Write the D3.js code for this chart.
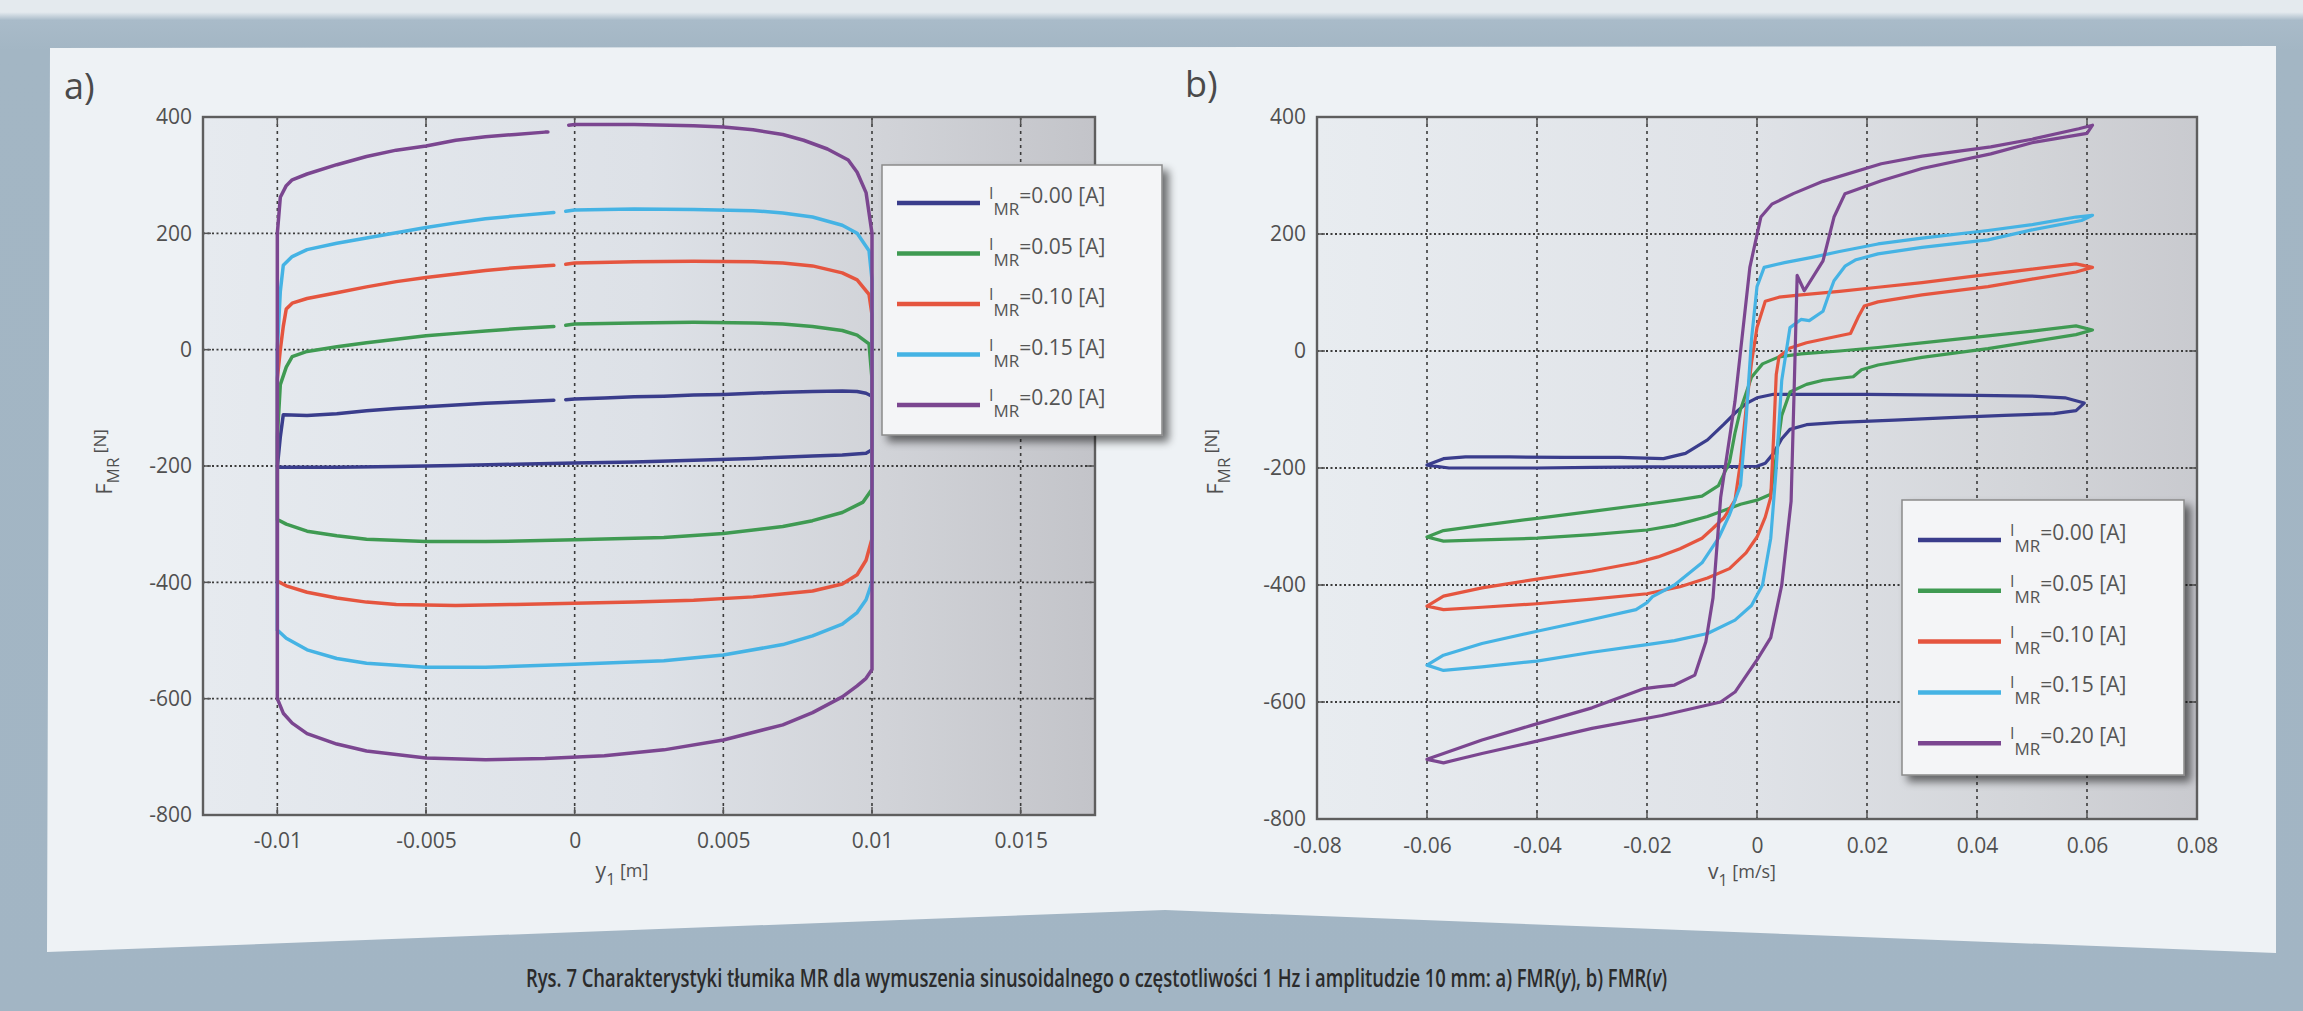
<!DOCTYPE html>
<html><head><meta charset="utf-8">
<script src="https://cdn.jsdelivr.net/npm/d3@7"></script>
<style>body{margin:0;background:#a7b9c7;overflow:hidden}</style>
</head><body><svg id="c" width="2303" height="1011"></svg>
<script>
// ---------- data ----------
const currents = ["0.00", "0.05", "0.10", "0.15", "0.20"];
const seriesColors = ["#3a3d8c", "#3f9a52", "#e5553f", "#45b3e4", "#7b4690"];
const forceTicks = [400, 200, 0, -200, -400, -600, -800];
const forceTickLabels = ["400", "200", "0", "-200", "-400", "-600", "-800"];
const dispTicks = [-0.01, -0.005, 0, 0.005, 0.01, 0.015];
const dispTickLabels = ["-0.01", "-0.005", "0", "0.005", "0.01", "0.015"];
const velTicks = [-0.08, -0.06, -0.04, -0.02, 0, 0.02, 0.04, 0.06, 0.08];
const velTickLabels = ["-0.08", "-0.06", "-0.04", "-0.02", "0", "0.02", "0.04", "0.06", "0.08"];

// a) F_MR(y): [y1 (m), F (N)], null = break in the recorded line
const dispLoop000 = [[-0.01,-202],[-0.0099,-150],[-0.0098,-112],[-0.009,-113],[-0.008,-110],[-0.007,-105],[-0.006,-101],[-0.005,-98],[-0.004,-95],[-0.003,-92],[-0.002,-90],[-0.0007,-87],null,[-0.0003,-86],[0,-85],[0.001,-83],[0.002,-81],[0.003,-80],[0.004,-78],[0.005,-77],[0.006,-75],[0.007,-73],[0.008,-72],[0.009,-71],[0.0095,-72],[0.0098,-75],[0.01,-80],[0.01,-172],[0.0098,-178],[0.009,-181],[0.008,-183],[0.006,-187],[0.004,-190],[0.002,-193],[0,-195],[-0.002,-197],[-0.004,-199],[-0.006,-201],[-0.008,-202],[-0.01,-202]];
const dispLoop005 = [[-0.01,-292],[-0.01,-150],[-0.0099,-60],[-0.0097,-30],[-0.0095,-12],[-0.009,-3],[-0.008,5],[-0.007,12],[-0.006,18],[-0.005,24],[-0.004,28],[-0.003,32],[-0.002,36],[-0.0007,40],null,[-0.0003,42],[0,44],[0.002,46],[0.004,47],[0.006,46],[0.007,44],[0.008,40],[0.009,33],[0.0095,25],[0.0099,10],[0.01,-50],[0.01,-240],[0.0097,-262],[0.009,-280],[0.008,-294],[0.007,-304],[0.005,-316],[0.003,-323],[0,-327],[-0.003,-330],[-0.005,-330],[-0.007,-326],[-0.008,-320],[-0.009,-312],[-0.0097,-300],[-0.01,-292]];
const dispLoop010 = [[-0.01,-398],[-0.01,-50],[-0.0099,0],[-0.0098,40],[-0.0097,70],[-0.0095,80],[-0.009,88],[-0.008,98],[-0.007,108],[-0.006,117],[-0.005,124],[-0.004,130],[-0.003,136],[-0.002,141],[-0.0007,145],null,[-0.0003,147],[0,149],[0.002,151],[0.004,152],[0.006,151],[0.007,149],[0.008,144],[0.009,132],[0.0095,120],[0.0099,95],[0.01,60],[0.01,-325],[0.0098,-362],[0.0095,-387],[0.009,-403],[0.008,-415],[0.006,-425],[0.004,-431],[0.002,-434],[0,-436],[-0.002,-438],[-0.004,-440],[-0.006,-438],[-0.007,-434],[-0.008,-427],[-0.009,-417],[-0.0097,-406],[-0.01,-398]];
const dispLoop015 = [[-0.01,-482],[-0.01,0],[-0.0099,100],[-0.0098,145],[-0.0095,160],[-0.009,172],[-0.008,183],[-0.007,192],[-0.006,201],[-0.005,210],[-0.004,218],[-0.003,225],[-0.002,230],[-0.0007,236],null,[-0.0003,238],[0,240],[0.002,242],[0.004,241],[0.006,239],[0.007,235],[0.008,228],[0.009,214],[0.0095,200],[0.0099,170],[0.01,120],[0.01,-400],[0.0098,-430],[0.0095,-452],[0.009,-472],[0.008,-492],[0.007,-507],[0.005,-525],[0.003,-535],[0,-541],[-0.003,-546],[-0.005,-546],[-0.007,-539],[-0.008,-531],[-0.009,-516],[-0.0097,-496],[-0.01,-482]];
const dispLoop020 = [[-0.01,-600],[-0.01,200],[-0.0099,262],[-0.0097,282],[-0.0095,292],[-0.009,302],[-0.008,318],[-0.007,332],[-0.006,343],[-0.005,350],[-0.004,360],[-0.003,366],[-0.002,370],[-0.001,374],[-0.0009,374],null,[-0.0002,386],[0,387],[0.002,387],[0.004,385],[0.005,383],[0.006,378],[0.007,370],[0.0077,360],[0.0085,345],[0.0092,326],[0.0095,305],[0.0098,270],[0.01,200],[0.01,-550],[0.0098,-565],[0.0095,-578],[0.009,-597],[0.008,-624],[0.007,-645],[0.005,-671],[0.003,-688],[0.001,-698],[-0.001,-703],[-0.003,-705],[-0.005,-702],[-0.007,-690],[-0.008,-678],[-0.009,-660],[-0.0095,-642],[-0.0098,-625],[-0.01,-600]];

// b) F_MR(v): [v1 (m/s), F (N)]
const velLoop000 = [[-0.06,-195],[-0.057,-184],[-0.053,-181],[-0.045,-181],[-0.035,-182],[-0.025,-182],[-0.017,-184],[-0.013,-175],[-0.009,-152],[-0.006,-125],[-0.004,-106],[-0.002,-90],[0,-80],[0.003,-74],[0.01,-74],[0.02,-74],[0.03,-75],[0.04,-76],[0.05,-77],[0.056,-80],[0.0595,-89],[0.058,-102],[0.054,-107],[0.045,-110],[0.035,-114],[0.025,-118],[0.015,-122],[0.009,-126],[0.006,-134],[0.0045,-150],[0.003,-175],[0.0015,-192],[0,-197],[-0.01,-198],[-0.02,-198],[-0.03,-199],[-0.04,-200],[-0.05,-200],[-0.056,-200],[-0.06,-195]];
const velLoop005 = [[-0.06,-318],[-0.057,-307],[-0.05,-298],[-0.04,-286],[-0.03,-274],[-0.02,-262],[-0.014,-254],[-0.01,-248],[-0.007,-230],[-0.005,-190],[-0.004,-140],[-0.003,-100],[-0.001,-45],[0.001,-22],[0.004,-10],[0.008,-5],[0.015,0],[0.022,6],[0.03,14],[0.042,26],[0.05,34],[0.058,43],[0.061,36],[0.058,28],[0.05,16],[0.042,4],[0.03,-11],[0.022,-24],[0.019,-32],[0.0175,-44],[0.012,-50],[0.009,-57],[0.006,-70],[0.0045,-110],[0.0035,-180],[0.0025,-245],[0,-255],[-0.003,-262],[-0.009,-283],[-0.015,-298],[-0.02,-306],[-0.03,-314],[-0.04,-320],[-0.05,-323],[-0.057,-325],[-0.06,-318]];
const velLoop010 = [[-0.06,-436],[-0.057,-419],[-0.05,-405],[-0.04,-390],[-0.03,-376],[-0.022,-362],[-0.018,-352],[-0.014,-338],[-0.01,-320],[-0.008,-303],[-0.006,-285],[-0.004,-255],[-0.003,-190],[-0.002,-100],[-0.001,-20],[0,40],[0.0015,85],[0.004,92],[0.008,96],[0.015,102],[0.022,109],[0.03,117],[0.042,131],[0.05,140],[0.058,149],[0.061,143],[0.058,135],[0.05,123],[0.042,110],[0.03,96],[0.022,84],[0.0195,77],[0.0185,60],[0.017,30],[0.012,20],[0.009,14],[0.006,5],[0.004,-10],[0.0035,-40],[0.003,-150],[0.0025,-250],[0.0015,-284],[0,-318],[-0.002,-345],[-0.005,-372],[-0.009,-388],[-0.014,-403],[-0.02,-415],[-0.03,-424],[-0.04,-432],[-0.05,-438],[-0.057,-442],[-0.06,-436]];
const velLoop015 = [[-0.06,-537],[-0.057,-520],[-0.05,-500],[-0.04,-479],[-0.03,-459],[-0.022,-442],[-0.02,-430],[-0.019,-420],[-0.015,-400],[-0.01,-362],[-0.007,-320],[-0.005,-280],[-0.003,-230],[-0.002,-120],[-0.001,20],[0,110],[0.0013,143],[0.005,151],[0.01,160],[0.015,170],[0.022,183],[0.03,193],[0.042,206],[0.05,216],[0.058,229],[0.061,232],[0.059,223],[0.05,207],[0.042,190],[0.03,177],[0.022,166],[0.018,156],[0.016,145],[0.014,120],[0.013,95],[0.012,68],[0.0095,52],[0.008,54],[0.006,40],[0.0045,-50],[0.0035,-200],[0.0025,-320],[0.001,-400],[-0.001,-435],[-0.004,-460],[-0.009,-483],[-0.015,-495],[-0.02,-502],[-0.03,-515],[-0.04,-530],[-0.05,-540],[-0.057,-546],[-0.06,-537]];
const velLoop020 = [[-0.06,-698],[-0.057,-688],[-0.05,-665],[-0.041,-640],[-0.03,-610],[-0.0205,-577],[-0.018,-574],[-0.015,-571],[-0.0113,-554],[-0.0093,-497],[-0.008,-422],[-0.0066,-250],[-0.004,-86],[-0.0013,143],[0.0007,229],[0.0027,251],[0.0066,269],[0.012,290],[0.0226,320],[0.03,333],[0.0425,349],[0.05,362],[0.0585,380],[0.061,386],[0.06,372],[0.05,356],[0.0425,337],[0.03,312],[0.0226,291],[0.016,269],[0.014,229],[0.012,154],[0.0086,103],[0.0073,129],[0.0068,-50],[0.0062,-257],[0.0045,-400],[0.0025,-490],[0,-528],[-0.004,-583],[-0.0066,-600],[-0.0173,-623],[-0.03,-645],[-0.041,-669],[-0.05,-688],[-0.057,-704],[-0.06,-698]];

const dispLoops = [dispLoop000, dispLoop005, dispLoop010, dispLoop015, dispLoop020];
const velLoops = [velLoop000, velLoop005, velLoop010, velLoop015, velLoop020];

// ---------- drawing ----------
const svg = d3.select("#c");
const FONT = "'Open Sans','Noto Sans',sans-serif";
const defs = svg.append("defs");

const bgGrad = defs.append("linearGradient").attr("id","bg").attr("x1",0).attr("y1",0).attr("x2",0).attr("y2",1);
bgGrad.append("stop").attr("offset",0).attr("stop-color","#e4eaee");
bgGrad.append("stop").attr("offset",0.012).attr("stop-color","#e4eaee");
bgGrad.append("stop").attr("offset",0.02).attr("stop-color","#a9bbc9");
bgGrad.append("stop").attr("offset",0.05).attr("stop-color","#a3b6c4");
bgGrad.append("stop").attr("offset",1).attr("stop-color","#a2b5c4");

function plotGrad(id, stops){
  const g = defs.append("linearGradient").attr("id",id).attr("x1",0).attr("y1",0).attr("x2",1).attr("y2",0);
  stops.forEach(s=>g.append("stop").attr("offset",s[0]).attr("stop-color",s[1]));
}
plotGrad("pa", [[0,"#e6eaef"],[0.5,"#dde1e7"],[0.75,"#d2d4d9"],[1,"#c3c4c9"]]);
plotGrad("pb", [[0,"#e8ecf0"],[0.5,"#dfe2e7"],[0.8,"#d3d5d9"],[1,"#c9cacf"]]);

const sh = defs.append("filter").attr("id","sh").attr("x","-10%").attr("y","-10%").attr("width","130%").attr("height","130%");
sh.append("feGaussianBlur").attr("in","SourceAlpha").attr("stdDeviation",4);
sh.append("feOffset").attr("dx",6).attr("dy",6).attr("result","b");
sh.append("feComponentTransfer").attr("in","b").attr("result","c").append("feFuncA").attr("type","linear").attr("slope",0.55);
const fm = sh.append("feMerge"); fm.append("feMergeNode").attr("in","c"); fm.append("feMergeNode").attr("in","SourceGraphic");

svg.append("rect").attr("width",2303).attr("height",1011).attr("fill","url(#bg)");
// paper panel
svg.append("polygon").attr("points","50,48 2276,46 2276,953 1165,910 47,952").attr("fill","#eef2f5");

// panel letters
svg.append("text").attr("x",64).attr("y",99).attr("font-family",FONT).attr("font-size",36).attr("fill","#4a4a4a").text("a)");
svg.append("text").attr("x",1185).attr("y",97).attr("font-family",FONT).attr("font-size",36).attr("fill","#4a4a4a").text("b)");

function panel(cfg){
  const x = d3.scaleLinear().domain(cfg.xDomain).range([cfg.left, cfg.right]);
  const y = d3.scaleLinear().domain([-800, 400]).range([cfg.bottom, cfg.top]);
  const g = svg.append("g");
  g.append("rect").attr("x",cfg.left).attr("y",cfg.top).attr("width",cfg.right-cfg.left).attr("height",cfg.bottom-cfg.top).attr("fill",`url(#${cfg.grad})`);
  // grid
  g.selectAll(".vg").data(cfg.xTicks.filter(t=>x(t)>cfg.left+2 && x(t)<cfg.right-2)).join("line")
    .attr("x1",d=>x(d)).attr("x2",d=>x(d)).attr("y1",cfg.top).attr("y2",cfg.bottom)
    .attr("stroke","#3c3c3c").attr("stroke-width",1.6).attr("stroke-dasharray","3,4");
  g.selectAll(".hg").data(forceTicks.filter(t=>t<400 && t>-800)).join("line")
    .attr("x1",cfg.left).attr("x2",cfg.right).attr("y1",d=>y(d)).attr("y2",d=>y(d))
    .attr("stroke","#3c3c3c").attr("stroke-width",1.8).attr("stroke-dasharray","2,2.5");
  // axes via d3
  const ax = d3.axisBottom(x).tickValues(cfg.xTicks).tickFormat((d,i)=>cfg.xLabels[i]).tickSize(0).tickPadding(cfg.xPad);
  const ay = d3.axisLeft(y).tickValues(forceTicks).tickFormat((d,i)=>forceTickLabels[i]).tickSize(0).tickPadding(11);
  const gx = g.append("g").attr("transform",`translate(0,${cfg.bottom})`).call(ax);
  const gy = g.append("g").attr("transform",`translate(${cfg.left},0)`).call(ay);
  [gx,gy].forEach(a=>{a.select(".domain").remove();
    a.selectAll("text").attr("font-family",FONT).attr("font-size",21).attr("fill","#505050");});
  // inner ticks on all sides
  cfg.xTicks.forEach(t=>{
    g.append("line").attr("x1",x(t)).attr("x2",x(t)).attr("y1",cfg.bottom).attr("y2",cfg.bottom-8).attr("stroke","#555").attr("stroke-width",1.5);
    g.append("line").attr("x1",x(t)).attr("x2",x(t)).attr("y1",cfg.top).attr("y2",cfg.top+8).attr("stroke","#555").attr("stroke-width",1.5);
  });
  forceTicks.forEach(t=>{
    g.append("line").attr("x1",cfg.left).attr("x2",cfg.left+8).attr("y1",y(t)).attr("y2",y(t)).attr("stroke","#555").attr("stroke-width",1.5);
    g.append("line").attr("x1",cfg.right).attr("x2",cfg.right-8).attr("y1",y(t)).attr("y2",y(t)).attr("stroke","#555").attr("stroke-width",1.5);
  });
  g.append("rect").attr("x",cfg.left).attr("y",cfg.top).attr("width",cfg.right-cfg.left).attr("height",cfg.bottom-cfg.top)
    .attr("fill","none").attr("stroke","#5e5e5e").attr("stroke-width",2.4);
  // data lines
  const line = d3.line().defined(d=>d!==null).x(d=>x(d[0])).y(d=>y(d[1]));
  cfg.loops.forEach((L,i)=>{
    g.append("path").attr("d",line(L)).attr("fill","none").attr("stroke",seriesColors[i])
      .attr("stroke-width",cfg.lw).attr("stroke-linejoin","round").attr("stroke-linecap","round");
  });
  // axis titles
  const xt = svg.append("text").attr("x",cfg.xTitleX).attr("y",cfg.xTitleY).attr("text-anchor","middle")
    .attr("font-family",FONT).attr("font-size",21).attr("fill","#505050");
  xt.append("tspan").text(cfg.xTitle[0]);
  xt.append("tspan").attr("font-size",16).attr("dy",7).text(cfg.xTitle[1]);
  xt.append("tspan").attr("font-size",18).attr("dy",-8).text(" " + cfg.xTitle[2]);
  const yt = svg.append("text").attr("transform",`translate(${cfg.yTitleX},${cfg.yTitleY}) rotate(-90)`).attr("text-anchor","middle")
    .attr("font-family",FONT).attr("font-size",22).attr("fill","#505050");
  yt.append("tspan").text("F");
  yt.append("tspan").attr("font-size",17).attr("dy",7).text("MR");
  yt.append("tspan").attr("font-size",17).attr("dy",-13).text(" [N]");
  // legend
  const lg = svg.append("g");
  lg.append("rect").attr("x",cfg.leg.x).attr("y",cfg.leg.y).attr("width",cfg.leg.w).attr("height",cfg.leg.h)
    .attr("fill","#f4f5f7").attr("stroke","#8a8a8a").attr("stroke-width",1.5).attr("filter","url(#sh)");
  currents.forEach((c,i)=>{
    const ly = cfg.leg.y + cfg.leg.first + i*cfg.leg.step;
    const lx = cfg.leg.x + cfg.leg.pad;
    lg.append("line").attr("x1",lx).attr("x2",lx+83).attr("y1",ly).attr("y2",ly).attr("stroke",seriesColors[i]).attr("stroke-width",4.5);
    const t = lg.append("text").attr("x",lx+92).attr("y",ly-4).attr("font-family",FONT).attr("font-size",16).attr("fill","#555");
    t.append("tspan").text("I");
    t.append("tspan").attr("dy",16).attr("font-size",17).text("MR");
    t.append("tspan").attr("dy",-12).attr("font-size",21).text("=" + c + " [A]");
  });
}

panel({xDomain:[-0.0125,0.0175], left:203, right:1095, top:117, bottom:815, grad:"pa",
  xTicks:dispTicks, xLabels:dispTickLabels, xPad:18, loops:dispLoops, lw:3.5,
  xTitle:["y","1","[m]"], xTitleX:622, xTitleY:878, yTitleX:112, yTitleY:462,
  leg:{x:882,y:165,w:280,h:270,pad:15,first:38,step:50.5}});
panel({xDomain:[-0.08,0.08], left:1317, right:2197, top:117, bottom:819, grad:"pb",
  xTicks:velTicks, xLabels:velTickLabels, xPad:19, loops:velLoops, lw:3.2,
  xTitle:["v","1","[m/s]"], xTitleX:1742, xTitleY:879, yTitleX:1223, yTitleY:462,
  leg:{x:1902,y:500,w:282,h:275,pad:16,first:40,step:50.8}});

// caption, condensed horizontally to the measured width of the original
const cap = svg.append("text").attr("x",0).attr("y",0).attr("font-family",FONT)
  .attr("font-size",25).attr("font-weight",600).attr("fill","#2b2b2b");
cap.append("tspan").text("Rys. 7 Charakterystyki tłumika MR dla wymuszenia sinusoidalnego o częstotliwości 1 Hz i amplitudzie 10 mm:  a) FMR(");
cap.append("tspan").attr("font-style","italic").text("y");
cap.append("tspan").text("), b) FMR(");
cap.append("tspan").attr("font-style","italic").text("v");
cap.append("tspan").text(")");
const capW = cap.node().getComputedTextLength();
cap.attr("transform",`translate(526,987) scale(${1142/capW},1)`);
</script></body></html>
